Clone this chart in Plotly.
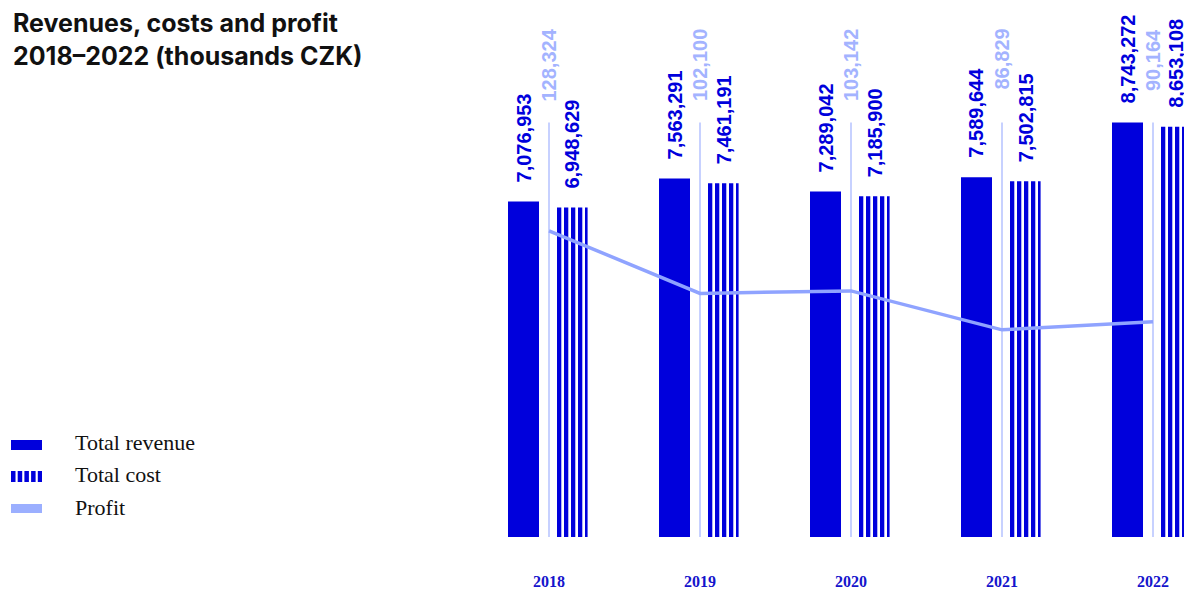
import plotly.graph_objects as go

# ---- data ----
years = [2018, 2019, 2020, 2021, 2022]
year_labels = ["2018", "2019", "2020", "2021", "2022"]
revenue = [7076953, 7563291, 7289042, 7589644, 8743272]
cost = [6948629, 7461191, 7185900, 7502815, 8653108]
profit = [128324, 102100, 103142, 86829, 90164]

# ---- styling constants ----
BLUE = "#0000DC"
PROFIT_LINE = "#8FA3FF"
PROFIT_TEXT = "#A3B3FF"
THIN = "#B4C2FF"
YEAR_COL = "#1515CC"

W, H = 1184, 590
ML, MR, MT, MB = 490, 0, 10, 53
PW, PH = W - ML - MR, H - MT - MB
STEP = 151.0                      # px per year
LINE_PX = 549                     # px of first group's centre
X0 = years[0] - (LINE_PX - ML) / STEP
X1 = X0 + PW / STEP
BARW = 31 / STEP
REV_OFF = -41 / STEP
COST_OFF = 8 / STEP
STRIPE_PERIOD = 7 / STEP
STRIPE_WIDTHS = [4.3 / STEP, 4.3 / STEP, 4.3 / STEP, 4.3 / STEP, 2.6 / STEP]
Y1_MAX = PH / 4.741e-5
Y2_MAX = PH / 0.002386

def xp(px):
    return (px - ML) / PW

def yp(py):
    return (H - MB - py) / PH

fig = go.Figure()

fig.add_trace(go.Bar(
    x=years, y=revenue, name="Total revenue",
    width=BARW, offset=REV_OFF, marker=dict(color=BLUE, line=dict(width=0)),
    hoverinfo="skip",
))
# total cost drawn as a striped bar (five vertical stripes per year)
for k, sw in enumerate(STRIPE_WIDTHS):
    fig.add_trace(go.Bar(
        x=years, y=cost, name="Total cost", legendgroup="cost", showlegend=(k == 0),
        width=sw, offset=COST_OFF + k * STRIPE_PERIOD,
        marker=dict(color=BLUE, line=dict(width=0)),
        hoverinfo="skip",
    ))
fig.add_trace(go.Scatter(
    x=years, y=profit, name="Profit", yaxis="y2", mode="lines",
    line=dict(color=PROFIT_LINE, width=3.5), hoverinfo="skip",
))

# thin separators at each year
for yr in years:
    fig.add_shape(type="line", xref="x", yref="y", x0=yr, x1=yr, y0=0, y1=max(revenue),
                  line=dict(color=THIN, width=1.5), layer="below")

label_font = dict(family="Liberation Sans, Arial, sans-serif", size=20, color=BLUE, weight="bold")
for yr, r, c, p in zip(years, revenue, cost, profit):
    fig.add_annotation(x=yr + REV_OFF + BARW / 2, y=r, xref="x", yref="y",
                       text=f"{r:,}", textangle=-90, showarrow=False,
                       yanchor="bottom", xanchor="center", yshift=17, font=label_font)
    fig.add_annotation(x=yr + COST_OFF + BARW / 2, y=c, xref="x", yref="y",
                       text=f"{c:,}", textangle=-90, showarrow=False,
                       yanchor="bottom", xanchor="center", yshift=17, font=label_font)
    fig.add_annotation(x=yr, y=yp(27), xref="x", yref="paper",
                       text=f"{p:,}", textangle=-90, showarrow=False,
                       yanchor="top", xanchor="center",
                       font=dict(family="Liberation Sans, Arial, sans-serif", size=20,
                                 color=PROFIT_TEXT, weight="bold"))

# title
fig.add_annotation(x=xp(11), y=yp(6), xref="paper", yref="paper", xanchor="left", yanchor="top",
                   align="left", showarrow=False,
                   text="<b>Revenues, costs and profit<br>2018–2022 (thousands CZK)</b>",
                   font=dict(family="Inter, Roboto, sans-serif", size=25, color="#111111"))

# legend (manual)
leg = [("Total revenue", 445, 10, None, BLUE, 442),
       ("Total cost", 476.5, 11, "4.5px,2.2px", BLUE, 474),
       ("Profit", 508.5, 9, None, "#9BAFFF", 507)]
for name, ly, lw, dash, col, ty in leg:
    ln = dict(color=col, width=lw)
    if dash:
        ln["dash"] = dash
    fig.add_shape(type="line", xref="paper", yref="paper", x0=xp(11), x1=xp(42),
                  y0=yp(ly), y1=yp(ly), line=ln)
    fig.add_annotation(x=xp(73), y=yp(ty), xref="paper", yref="paper", xanchor="left",
                       yanchor="middle", showarrow=False, text=name,
                       font=dict(family="Liberation Serif, serif", size=22, color="#111111"))

fig.update_layout(
    width=W, height=H, autosize=False,
    margin=dict(l=ML, r=MR, t=MT, b=MB, pad=0, autoexpand=False),
    paper_bgcolor="white", plot_bgcolor="white",
    barmode="overlay", showlegend=False,
    xaxis=dict(range=[X0, X1], tickvals=years, ticktext=year_labels, automargin=False,
               showgrid=False, zeroline=False, showline=False, ticks="",
               ticklabelstandoff=33,
               tickfont=dict(family="Liberation Serif, serif", size=16, color=YEAR_COL, weight="bold")),
    yaxis=dict(range=[0, Y1_MAX], visible=False, showgrid=False, zeroline=False, automargin=False),
    yaxis2=dict(range=[0, Y2_MAX], overlaying="y", visible=False, showgrid=False,
                zeroline=False, automargin=False),
)

fig.write_html("out.html", config={"displayModeBar": False},
               post_script="document.body.style.margin='0';document.body.style.overflow='hidden';")
